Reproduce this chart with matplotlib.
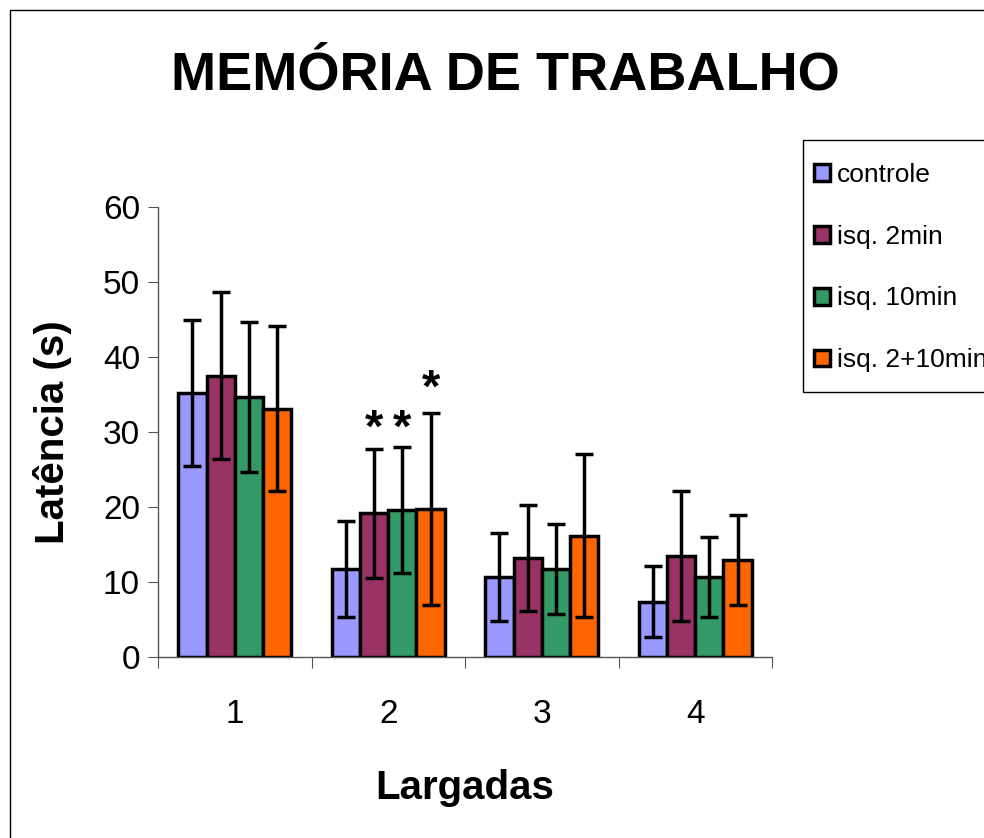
import matplotlib
matplotlib.use("Agg")
import matplotlib.pyplot as plt
import numpy as np
from matplotlib.patches import Rectangle

categories = ["1", "2", "3", "4"]
series_names = ["controle", "isq. 2min", "isq. 10min", "isq. 2+10min"]
colors = ["#9999FF", "#993366", "#339966", "#FF6600"]

controle = [35.2, 11.8, 10.7, 7.4]
isq_2min = [37.5, 19.2, 13.2, 13.5]
isq_10min = [34.6, 19.6, 11.8, 10.7]
isq_2_10min = [33.1, 19.7, 16.2, 13.0]

controle_err = [9.7, 6.4, 5.9, 4.7]
isq_2min_err = [11.1, 8.6, 7.1, 8.7]
isq_10min_err = [10.0, 8.4, 6.0, 5.3]
isq_2_10min_err = [11.0, 12.8, 10.8, 6.0]

yticks = [0, 10, 20, 30, 40, 50, 60]

values = [controle, isq_2min, isq_10min, isq_2_10min]
errors = [controle_err, isq_2min_err, isq_10min_err, isq_2_10min_err]

plt.rcParams['font.family'] = ['Liberation Sans', 'DejaVu Sans']

fig = plt.figure(figsize=(9.84, 8.38), dpi=100)
ax = fig.add_axes([158/984, 1-657/838, 614/984, 450/838])

x = np.arange(1, len(categories)+1)
w = 0.184
for i, (vals, errs, col, name) in enumerate(zip(values, errors, colors, series_names)):
    pos = x + (i-1.5)*w
    ax.bar(pos, vals, width=w, color=col, edgecolor='black', linewidth=2.5, label=name, zorder=2)
    ax.errorbar(pos, vals, yerr=errs, fmt='none', ecolor='black', elinewidth=2.5,
                capsize=6.5, capthick=2.5, zorder=3)

# significance asterisks (group 2)
ax.text(2 - 0.5*w, 30.3, '*', ha='center', va='center', fontsize=34, fontweight='bold')
ax.text(2 + 0.5*w, 30.3, '*', ha='center', va='center', fontsize=34, fontweight='bold')
ax.text(2 + 1.5*w, 35.6, '*', ha='center', va='center', fontsize=34, fontweight='bold')

ax.set_xlim(0.5, 4.5)
ax.set_ylim(0, 60)
ax.set_yticks(yticks)
ax.set_yticklabels([str(t) for t in yticks], fontsize=24)
ax.set_xticks(np.arange(0.5, 4.6, 1.0))
ax.set_xticklabels([])
ax.set_xticks(x, minor=True)
ax.set_xticklabels(categories, minor=True, fontsize=24)
ax.tick_params(axis='x', which='major', length=8, direction='out', color='#555555')
ax.tick_params(axis='x', which='minor', length=0, pad=30)
ax.tick_params(axis='y', length=7, direction='out', color='#555555', pad=6)
for s in ['top', 'right']:
    ax.spines[s].set_visible(False)
for s in ['left', 'bottom']:
    ax.spines[s].set_color('#555555')
    ax.spines[s].set_linewidth(1.0)

ax.set_ylabel('Latência (s)', fontsize=29, fontweight='bold', labelpad=22)
ax.set_xlabel('Largadas', fontsize=29, fontweight='bold', labelpad=28)

fig.text(505/984, 1-75/838, 'MEMÓRIA DE TRABALHO', ha='center', va='center',
         fontsize=39, fontweight='bold')

# legend frame (extends past the right edge, as in the reference)
fig.patches.append(Rectangle((803/984, 1-392/838), 0.5, 252/838, transform=fig.transFigure,
                             fill=False, edgecolor='black', linewidth=1.0))
leg = fig.legend(loc='upper left', bbox_to_anchor=(814/984, 1-163/838), fontsize=19,
                 frameon=False, handlelength=0.6, handleheight=0.6, handletextpad=0.27,
                 labelspacing=1.43, borderaxespad=0, borderpad=0)

fig.patches.append(Rectangle((10/984, -0.05), 1.2, 1.05 - 10/838, transform=fig.transFigure,
                             fill=False, edgecolor='black', linewidth=1.0))

fig.savefig('out.png', dpi=100)
